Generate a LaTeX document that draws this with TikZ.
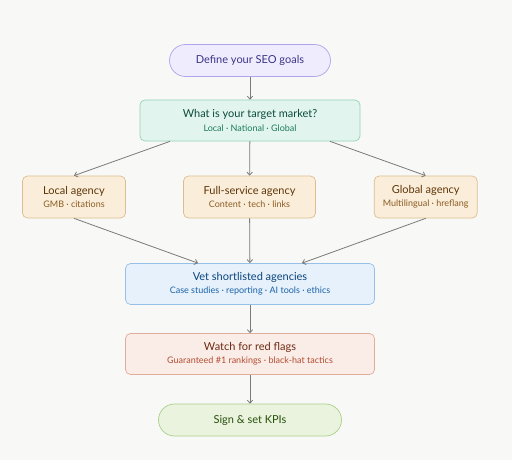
\documentclass[tikz,border=0pt]{standalone}
\usepackage{fontspec}
\setmainfont{Lato}
\usetikzlibrary{arrows.meta}

\definecolor{bgc}{HTML}{F8F8F6}
\definecolor{linec}{HTML}{7A7A78}
\definecolor{goalfill}{HTML}{EEECFD}
\definecolor{goaldraw}{HTML}{ADA6EC}
\definecolor{goaltext}{HTML}{3C3489}
\definecolor{mktfill}{HTML}{E1F5EE}
\definecolor{mktdraw}{HTML}{92D2B8}
\definecolor{mkttext}{HTML}{0B4A3A}
\definecolor{mktsub}{HTML}{1E7A5E}
\definecolor{agfill}{HTML}{FAEEDA}
\definecolor{agdraw}{HTML}{DDBE90}
\definecolor{agtext}{HTML}{5E3508}
\definecolor{agsub}{HTML}{8C5A22}
\definecolor{vetfill}{HTML}{E6F1FB}
\definecolor{vetdraw}{HTML}{95C0EA}
\definecolor{vettext}{HTML}{0C447C}
\definecolor{vetsub}{HTML}{1A62A8}
\definecolor{flagfill}{HTML}{FAECE7}
\definecolor{flagdraw}{HTML}{E2AC9C}
\definecolor{flagtext}{HTML}{6E2A12}
\definecolor{flagsub}{HTML}{B24E32}
\definecolor{signfill}{HTML}{EAF3DE}
\definecolor{signdraw}{HTML}{ABCF88}
\definecolor{signtext}{HTML}{27500A}

\tikzset{
  box/.style={draw,rectangle,rounded corners=5pt,line width=0.7pt,align=center,inner sep=0pt},
  pill/.style={draw,rectangle,rounded corners=16pt,line width=0.7pt,align=center,inner sep=0pt,font=\fontsize{11}{13}\selectfont},
  flow/.style={draw=linec,line width=0.8pt,-{Straight Barb[length=3pt,width=5.5pt]}},
}
\newcommand{\ttl}[1]{{\fontsize{11}{13}\selectfont #1}}
\newcommand{\subt}[1]{{\fontsize{9}{10}\selectfont #1}}

\begin{document}
\begin{tikzpicture}[x=1pt,y=-1pt]
\fill[bgc] (0,0) rectangle (512,460);
\useasboundingbox (0,0) rectangle (512,460);
\node[pill,fill=goalfill,draw=goaldraw,text=goaltext,minimum width=161,minimum height=32,name=goal] at (250,60.5) {Define your SEO goals};
\node[box,fill=mktfill,draw=mktdraw,minimum width=220,minimum height=41,name=market] at (250,120.5) {\textcolor{mkttext}{\ttl{What is your target market?}}\\[1.5pt]\textcolor{mktsub}{\subt{Local · National · Global}}};
\node[box,fill=agfill,draw=agdraw,minimum width=103,minimum height=42,name=local] at (74,197) {\textcolor{agtext}{\ttl{Local agency}}\\[1.5pt]\textcolor{agsub}{\subt{GMB · citations}}};
\node[box,fill=agfill,draw=agdraw,minimum width=132,minimum height=42,name=full] at (249.5,197) {\textcolor{agtext}{\ttl{Full-service agency}}\\[1.5pt]\textcolor{agsub}{\subt{Content · tech · links}}};
\node[box,fill=agfill,draw=agdraw,minimum width=103,minimum height=42,name=global] at (425.7,197) {\textcolor{agtext}{\ttl{Global agency}}\\[1.5pt]\textcolor{agsub}{\subt{Multilingual · hreflang}}};
\node[box,fill=vetfill,draw=vetdraw,minimum width=249,minimum height=41,name=vet] at (250,284) {\textcolor{vettext}{\ttl{Vet shortlisted agencies}}\\[1.5pt]\textcolor{vetsub}{\subt{Case studies · reporting · AI tools · ethics}}};
\node[box,fill=flagfill,draw=flagdraw,minimum width=249,minimum height=41,name=flags] at (250,354) {\textcolor{flagtext}{\ttl{Watch for red flags}}\\[1.5pt]\textcolor{flagsub}{\subt{Guaranteed \#1 rankings · black-hat tactics}}};
\node[pill,fill=signfill,draw=signdraw,text=signtext,minimum width=183,minimum height=32,name=sign] at (250,420) {Sign \& set KPIs};
\draw[flow] (goal) -- (market);
\draw[flow] ([xshift=-80pt]market.south) -- (local.north);
\draw[flow] (market) -- (full);
\draw[flow] ([xshift=80pt]market.south) -- (global.north);
\draw[flow] (local.south) -- ([xshift=-52pt]vet.north);
\draw[flow] (full) -- (vet);
\draw[flow] (global.south) -- ([xshift=52pt]vet.north);
\draw[flow] (vet) -- (flags);
\draw[flow] (flags) -- (sign);
\end{tikzpicture}
\end{document}
